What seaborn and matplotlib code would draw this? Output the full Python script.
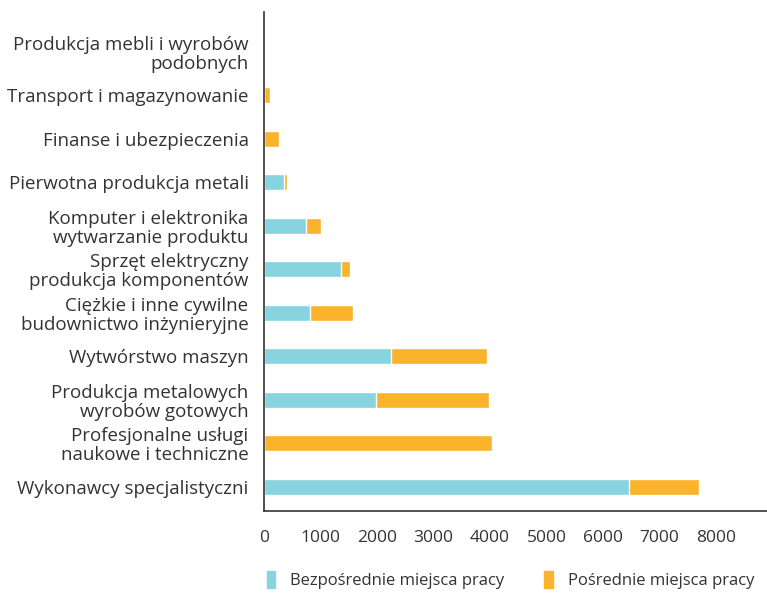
import matplotlib
matplotlib.use("Agg")
import matplotlib.pyplot as plt
import seaborn as sns
import pandas as pd
from matplotlib.patches import Patch

# dane (od gory do dolu)
branze = [
    "Produkcja mebli i wyrobów\npodobnych",
    "Transport i magazynowanie",
    "Finanse i ubezpieczenia",
    "Pierwotna produkcja metali",
    "Komputer i elektronika\nwytwarzanie produktu",
    "Sprzęt elektryczny\nprodukcja komponentów",
    "Ciężkie i inne cywilne\nbudownictwo inżynieryjne",
    "Wytwórstwo maszyn",
    "Produkcja metalowych\nwyrobów gotowych",
    "Profesjonalne usługi\nnaukowe i techniczne",
    "Wykonawcy specjalistyczni",
]
bezposrednie = [0, 0, 0, 350, 740, 1370, 810, 2250, 1990, 0, 6460]
posrednie = [8, 105, 265, 55, 265, 160, 775, 1690, 2000, 4030, 1230]

kolor_bezp = "#87d3e0"
kolor_posr = "#fbb32b"

sns.set_style("white")
plt.rcParams["font.family"] = ["Open Sans", "DejaVu Sans"]

df = pd.DataFrame({"Branza": branze, "Bezp": bezposrednie, "Posr": posrednie})
df["Suma"] = df["Bezp"] + df["Posr"]

fig = plt.figure(figsize=(7.67, 5.94), dpi=100)
ax = fig.add_axes([0.344, 0.14, 0.656, 0.84])

# suma (pomaranczowa) pod spodem, bezposrednie na wierzchu
sns.barplot(data=df, x="Suma", y="Branza", color=kolor_posr, width=0.37,
            saturation=1, ax=ax, orient="h")
sns.barplot(data=df, x="Bezp", y="Branza", color=kolor_bezp, width=0.37,
            saturation=1, ax=ax, orient="h")

ax.set_xlim(0, 8900)
ax.set_ylim(10.55, -0.92)
ax.set_xticks(range(0, 8001, 1000))
ax.set_xlabel("")
ax.set_ylabel("")
ax.tick_params(axis="both", length=0, colors="#333333")
ax.tick_params(axis="x", pad=14, labelsize=12.5)
ax.tick_params(axis="y", pad=11, labelsize=13.5)
for lab in ax.get_yticklabels():
    lab.set_horizontalalignment("right")
    lab.set_multialignment("right")
    lab.set_linespacing(1.05)

sns.despine(ax=ax)
for s in ["left", "bottom"]:
    ax.spines[s].set_color("#333333")
    ax.spines[s].set_linewidth(1.2)

uchwyty = [Patch(color=kolor_bezp, label="Bezpośrednie miejsca pracy"),
           Patch(color=kolor_posr, label="Pośrednie miejsca pracy")]
fig.legend(handles=uchwyty, loc="center left", bbox_to_anchor=(0.337, 0.024),
           ncol=2, frameon=False, fontsize=12, handlelength=0.5,
           handleheight=1.2, columnspacing=2.4, handletextpad=0.9,
           labelcolor="#333333", borderpad=0)

fig.savefig("out.png", dpi=100)
